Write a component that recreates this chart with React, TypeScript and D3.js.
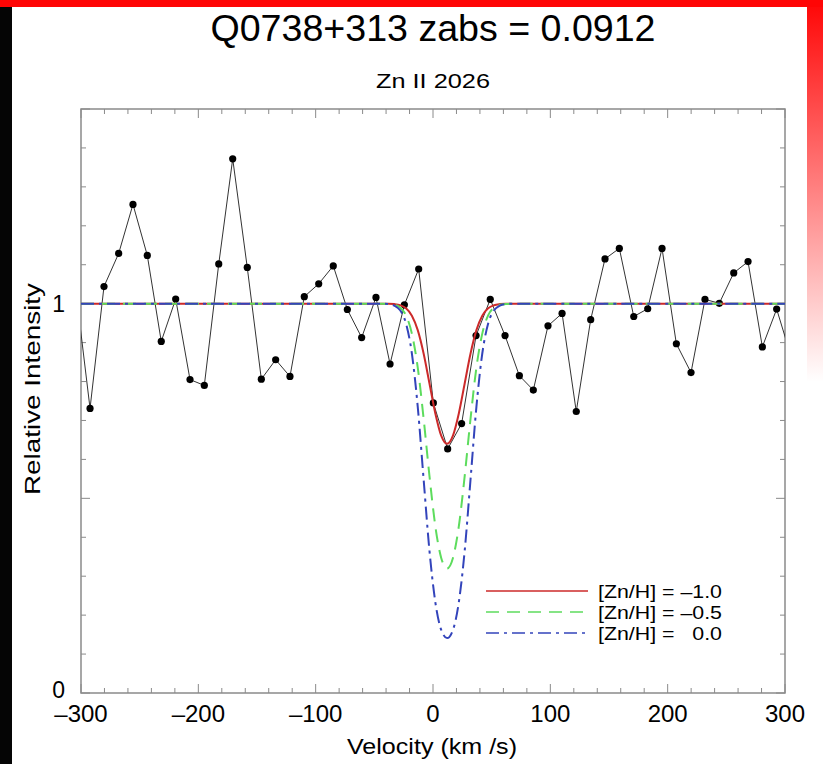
import React, { useEffect, useRef } from "react";
import * as d3 from "d3";

// observed spectrum (velocity in km/s, normalised intensity)
const velocity = [
  -304.5, -292.3, -280.4, -267.9, -255.7, -243.5, -231.6, -219.3, -207.1, -194.9,
  -182.6, -170.7, -158.3, -146.3, -134.1, -121.9, -109.7, -97.4, -85.0, -73.0,
  -60.8, -48.6, -36.6, -24.4, -12.2, 0.3, 12.5, 24.4, 36.7, 48.8,
  61.4, 73.6, 85.5, 98.0, 110.0, 122.1, 134.4, 146.6, 158.8, 171.1,
  183.0, 195.2, 207.4, 219.9, 231.8, 244.0, 256.3, 268.5, 280.7, 292.9, 305.1,
];
const intensity = [
  1.036, 0.731, 1.044, 1.129, 1.255, 1.124, 0.903, 1.012, 0.805, 0.79,
  1.102, 1.372, 1.093, 0.806, 0.856, 0.813, 1.018, 1.051, 1.097, 0.985,
  0.913, 1.016, 0.845, 0.997, 1.089, 0.745, 0.627, 0.692, 0.918, 1.011,
  0.918, 0.815, 0.778, 0.943, 0.975, 0.723, 0.959, 1.115, 1.142, 0.967,
  0.987, 1.142, 0.897, 0.823, 1.011, 1.001, 1.079, 1.108, 0.889, 0.986, 0.865,
];

// model profiles for three metallicities
const modelVel = [
  -300, -43, -38, -33, -28, -23, -18, -13, -8, -3, 2, 7, 12,
  17, 22, 27, 32, 37, 42, 47, 52, 57, 62, 67, 300,
];
const modelM10 = [
  1, 1, 1, 0.999, 0.996, 0.988, 0.969, 0.932, 0.872, 0.795, 0.718, 0.661, 0.64,
  0.661, 0.718, 0.795, 0.872, 0.932, 0.969, 0.988, 0.996, 0.999, 1, 1, 1,
];
const modelM05 = [
  1, 1, 0.999, 0.997, 0.99, 0.97, 0.923, 0.836, 0.705, 0.557, 0.428, 0.347, 0.32,
  0.347, 0.428, 0.557, 0.705, 0.836, 0.923, 0.97, 0.99, 0.997, 0.999, 1, 1,
];
const modelM00 = [
  1, 1, 0.999, 0.995, 0.983, 0.949, 0.872, 0.735, 0.549, 0.365, 0.233, 0.162, 0.141,
  0.162, 0.233, 0.365, 0.549, 0.735, 0.872, 0.949, 0.983, 0.995, 0.999, 1, 1,
];

const legendLabels = ["[Zn/H] = \u20131.0", "[Zn/H] = \u20130.5", "[Zn/H] =   0.0"];
const xTicks = [-300, -200, -100, 0, 100, 200, 300];
const yTicks = [0, 1];

const App = () => {
  const svgRef = useRef<SVGSVGElement>(null);

  useEffect(() => {
    const svg = d3.select(svgRef.current);
    svg.selectAll("*").remove();

    const width = 823, height = 764;
    const left = 81, right = 785, top = 109, bottom = 693;
    const font = "'Liberation Sans', Arial, sans-serif";

    // page decoration: red bar, black strip, fading red edge
    const defs = svg.append("defs");
    const grad = defs.append("linearGradient")
      .attr("id", "edgeFade").attr("x1", 0).attr("y1", 0).attr("x2", 0).attr("y2", 1);
    grad.append("stop").attr("offset", 0).attr("stop-color", "#ff0505");
    grad.append("stop").attr("offset", 0.5).attr("stop-color", "#ffffff");
    defs.append("clipPath").attr("id", "plotClip")
      .append("rect").attr("x", left).attr("y", top)
      .attr("width", right - left).attr("height", bottom - top);

    svg.append("rect").attr("width", width).attr("height", height).attr("fill", "#fff");
    svg.append("rect").attr("x", 807).attr("y", 0).attr("width", 16).attr("height", height)
      .attr("fill", "url(#edgeFade)");
    svg.append("rect").attr("x", 0).attr("y", 0).attr("width", width).attr("height", 7)
      .attr("fill", "#ff0505");
    svg.append("rect").attr("x", 0).attr("y", 7).attr("width", 12).attr("height", height - 7)
      .attr("fill", "#050505");

    const x = d3.scaleLinear().domain([-300, 300]).range([left, right]);
    const y = d3.scaleLinear().domain([0, 1.5]).range([bottom, top]);

    // frame and inward ticks
    const frame = svg.append("g").attr("stroke", "#8a8a8a").attr("fill", "none");
    frame.append("rect").attr("x", left).attr("y", top)
      .attr("width", right - left).attr("height", bottom - top).attr("stroke-width", 1.5);
    d3.range(-300, 301, 20).forEach((v) => {
      const len = v % 100 === 0 ? 9 : 5;
      frame.append("line").attr("x1", x(v)).attr("x2", x(v)).attr("y1", bottom).attr("y2", bottom - len);
      frame.append("line").attr("x1", x(v)).attr("x2", x(v)).attr("y1", top).attr("y2", top + len);
    });
    d3.range(0, 15.5, 1).forEach((k) => {
      const v = k / 10;
      const len = k % 5 === 0 ? 9 : 5;
      frame.append("line").attr("x1", left).attr("x2", left + len).attr("y1", y(v)).attr("y2", y(v));
      frame.append("line").attr("x1", right).attr("x2", right - len).attr("y1", y(v)).attr("y2", y(v));
    });

    // tick labels
    svg.append("g").selectAll("text").data(xTicks).join("text")
      .attr("x", (d) => x(d)).attr("y", 722)
      .attr("text-anchor", "middle")
      .style("font-family", font).style("font-size", "24px")
      .text((d) => (d < 0 ? "\u2013" + Math.abs(d) : String(d)));
    svg.append("g").selectAll("text").data(yTicks).join("text")
      .attr("x", 65).attr("y", (d) => y(d) + (d === 0 ? 5 : 8))
      .attr("text-anchor", "end")
      .style("font-family", font).style("font-size", "23px")
      .text((d) => String(d));

    // titles and axis labels
    svg.append("text").attr("x", 433).attr("y", 41).attr("text-anchor", "middle")
      .attr("textLength", 445).attr("lengthAdjust", "spacingAndGlyphs")
      .style("font-family", font).style("font-size", "36px")
      .text("Q0738+313 zabs = 0.0912");
    svg.append("text").attr("x", 433).attr("y", 88).attr("text-anchor", "middle")
      .attr("textLength", 114).attr("lengthAdjust", "spacingAndGlyphs")
      .style("font-family", font).style("font-size", "21px")
      .text("Zn II 2026");
    svg.append("text").attr("x", 432).attr("y", 754).attr("text-anchor", "middle")
      .attr("textLength", 170).attr("lengthAdjust", "spacingAndGlyphs")
      .style("font-family", font).style("font-size", "22px")
      .text("Velocity (km /s)");
    svg.append("text")
      .attr("transform", "translate(40,389) rotate(-90)")
      .attr("text-anchor", "middle")
      .attr("textLength", 212).attr("lengthAdjust", "spacingAndGlyphs")
      .style("font-family", font).style("font-size", "22px")
      .text("Relative Intensity");

    const plot = svg.append("g").attr("clip-path", "url(#plotClip)");

    // data
    const pts = velocity.map((v, i) => [v, intensity[i]] as [number, number]);
    plot.append("path").datum(pts)
      .attr("fill", "none").attr("stroke", "#333").attr("stroke-width", 1)
      .attr("d", d3.line<[number, number]>().x((d) => x(d[0])).y((d) => y(d[1])));
    plot.append("g").selectAll("circle").data(pts).join("circle")
      .attr("cx", (d) => x(d[0])).attr("cy", (d) => y(d[1])).attr("r", 3.6)
      .attr("fill", "#000");

    // model curves
    const models = [
      { vals: modelM10, color: "#cc2a2a", dash: null },
      { vals: modelM05, color: "#5ddc5d", dash: "13,8" },
      { vals: modelM00, color: "#3344bb", dash: "13,5,3,5" },
    ];
    const modelLine = d3.line<number>()
      .x((d, i) => x(modelVel[i])).y((d) => y(d))
      .curve(d3.curveMonotoneX);
    models.forEach((m) => {
      plot.append("path").datum(m.vals)
        .attr("fill", "none").attr("stroke", m.color).attr("stroke-width", 2)
        .attr("stroke-dasharray", m.dash)
        .attr("d", modelLine);
    });

    // legend
    const legend = svg.append("g");
    models.forEach((m, i) => {
      const ly = 591 + i * 21;
      legend.append("line").attr("x1", 486).attr("x2", 588).attr("y1", ly).attr("y2", ly)
        .attr("stroke", m.color).attr("stroke-width", 1.5).attr("stroke-dasharray", m.dash);
      legend.append("text").attr("x", 598).attr("y", ly + 7)
        .attr("xml:space", "preserve").style("white-space", "pre")
        .attr("textLength", 124).attr("lengthAdjust", "spacingAndGlyphs")
        .style("font-family", font).style("font-size", "19px")
        .text(legendLabels[i]);
    });
  }, []);

  return (
    <svg ref={svgRef} width={823} height={764}
      style={{ position: "absolute", left: 0, top: 0, display: "block" }} />
  );
};

export default App;
